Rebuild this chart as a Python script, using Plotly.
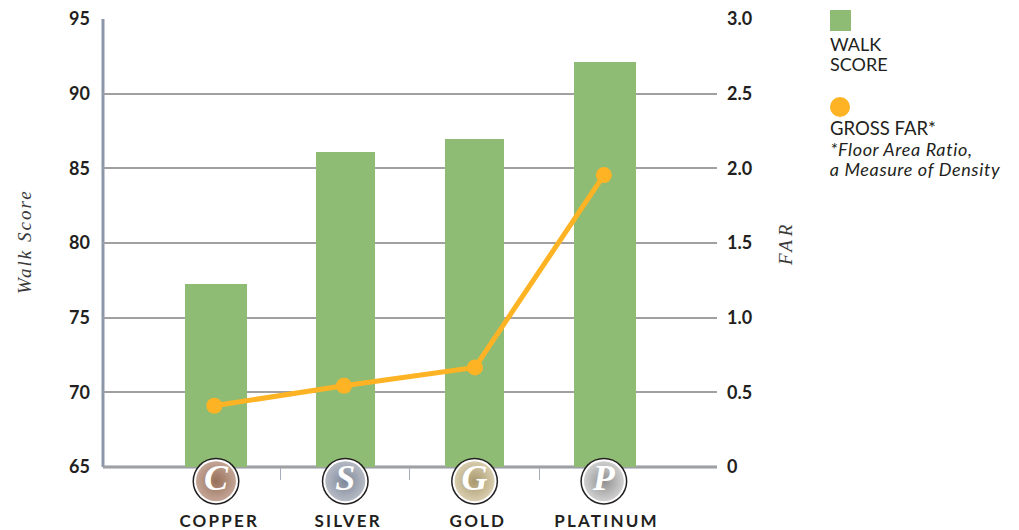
import plotly.graph_objects as go

categories = ["COPPER", "SILVER", "GOLD", "PLATINUM"]
letters = ["C", "S", "G", "P"]
walk_score = [77.25, 86.1, 86.95, 92.1]
gross_far = [0.41, 0.544, 0.667, 1.955]
badge_y = [64.05, 64.05, 64.05, 64.05]
badge_colors = ["#96705a", "#7f8899", "#a8986d", "#8f8f91"]
badge_centers = ["#c4a596", "#b5bac4", "#d8cdae", "#d0d0d0"]
left_ticks = [65, 70, 75, 80, 85, 90, 95]
right_ticks = [0, 0.5, 1, 1.5, 2, 2.5, 3]
right_labels = ["0", "0.5", "1.0", "1.5", "2.0", "2.5", "3.0"]
x_idx = [0, 1, 2, 3]
bar_x = [0, 1, 2, 3.008]
far_x = [-0.013, 0.99, 2.003, 3.0]
bar_widths = [0.477, 0.457, 0.457, 0.48]

GREEN = "#8fbc74"
ORANGE = "#fdb324"
AXIS = "#8b96a8"
TEXT = "#231f20"
SANS = "Lato"
SERIF = "Liberation Serif"

TOP = 19
AXIS_BOTTOM = 467
PLOT_BOTTOM = 510
Y_MIN, Y_MAX = 65, 95
FAR_MAX = 3
lower_px = PLOT_BOTTOM - AXIS_BOTTOM
span_px = AXIS_BOTTOM - TOP

fig = go.Figure()
fig.add_trace(go.Bar(x=bar_x, y=[v - Y_MIN for v in walk_score], base=Y_MIN, width=bar_widths,
                     marker=dict(color=GREEN, line_width=0), yaxis="y", showlegend=False))
fig.add_trace(go.Scatter(x=x_idx, y=badge_y, yaxis="y", mode="markers",
                         marker=dict(size=47, color="#231f20"), showlegend=False, hoverinfo="skip"))
fig.add_trace(go.Scatter(x=x_idx, y=badge_y, yaxis="y", mode="markers",
                         marker=dict(size=44, color="#ffffff"), showlegend=False, hoverinfo="skip"))
fig.add_trace(go.Scatter(x=x_idx, y=badge_y, yaxis="y", mode="markers+text",
                         text=[f"<b><i>{s}</i></b>" for s in letters], textposition="middle center",
                         textfont=dict(family=SERIF, size=36, color="#ffffff"),
                         marker=dict(size=40, color=badge_centers,
                                     gradient=dict(type="radial", color=badge_colors)),
                         showlegend=False, hoverinfo="skip"))
fig.add_trace(go.Scatter(x=far_x, y=gross_far, yaxis="y2", mode="lines+markers",
                         line=dict(color=ORANGE, width=5),
                         marker=dict(color=ORANGE, size=16), showlegend=False))

fig.update_layout(
    width=1019, height=530, margin=dict(l=103, r=302, t=TOP, b=530 - PLOT_BOTTOM, autoexpand=False),
    paper_bgcolor="white", plot_bgcolor="white", bargap=0,
    font=dict(family=SANS, color=TEXT),
    xaxis=dict(range=[-0.874, 3.875], tickmode="array", tickvals=[0.5, 1.5, 2.5], ticktext=["", "", ""],
               ticks="outside", ticklen=12, tickwidth=1, tickcolor="#a5adba", showgrid=False,
               zeroline=False, showline=False, anchor="free",
               position=lower_px / (PLOT_BOTTOM - TOP)),
    yaxis=dict(range=[Y_MIN - lower_px * (Y_MAX - Y_MIN) / span_px, Y_MAX], tickmode="array", tickvals=left_ticks,
               tickfont=dict(family=SANS, size=18, color=TEXT, weight=700),
               showgrid=True, gridcolor="#a0a0a0", gridwidth=1.5, zeroline=False,
               showline=False, ticks="", ticklabelstandoff=12),
    yaxis2=dict(range=[-lower_px * FAR_MAX / span_px, FAR_MAX], overlaying="y", side="right", tickmode="array",
                tickvals=right_ticks, ticktext=right_labels,
                tickfont=dict(family=SANS, size=18, color=TEXT, weight=700),
                showgrid=False, zeroline=False, showline=False, ticks="", ticklabelstandoff=9),
)


def px(x):
    return (x - 103) / 614


def py(y):
    return (PLOT_BOTTOM - y) / (PLOT_BOTTOM - TOP)


# Axis lines
fig.add_shape(type="line", xref="paper", yref="y", x0=0, x1=1, y0=Y_MIN, y1=Y_MIN, layer="below",
              line=dict(color=AXIS, width=3))
fig.add_shape(type="line", xref="paper", yref="y", x0=0, x1=0, y0=Y_MIN, y1=Y_MAX, layer="below",
              line=dict(color=AXIS, width=3))

for cat, i in zip(categories, x_idx):
    fig.add_annotation(x=i, y=py(520), xref="x", yref="paper", text=f"<b>{cat}</b>", showarrow=False,
                       xshift=3, font=dict(family=SANS, size=17, color=TEXT), xanchor="center", yanchor="middle")

fig.add_annotation(x=px(24), y=py(242), xref="paper", yref="paper", text="<i>Walk Score</i>", textangle=-90,
                   showarrow=False, xanchor="center", yanchor="middle",
                   font=dict(family=SERIF, size=19, color="#3a3a3a"))
fig.add_annotation(x=px(785), y=py(243), xref="paper", yref="paper", text="<i>FAR</i>", textangle=-90,
                   showarrow=False, xanchor="center", yanchor="middle",
                   font=dict(family=SERIF, size=19, color="#3a3a3a"))

# Hand-placed key at the right
fig.add_shape(type="rect", xref="paper", yref="paper", x0=px(830), x1=px(851), y0=py(31), y1=py(10),
              fillcolor=GREEN, line_width=0)
fig.add_shape(type="circle", xref="paper", yref="paper", x0=px(830), x1=px(850), y0=py(117), y1=py(97),
              fillcolor=ORANGE, line_width=0)
for text, y, size, shift in [("WALK", 44, 18, 0), ("SCORE", 64, 18, 0), ("GROSS FAR*", 128, 18.5, 0),
                             ("<i>*Floor Area Ratio,</i>", 149, 18, 5.5),
                             ("<i>a Measure of Density</i>", 169, 18, 6)]:
    fig.add_annotation(x=px(828), y=py(y), xref="paper", yref="paper", text=text, showarrow=False, xshift=shift,
                       xanchor="left", yanchor="middle", font=dict(family=SANS, size=size, color=TEXT))

spacing_js = """
document.body.style.margin='0';
document.querySelectorAll('.annotation-text').forEach(function(t){
  var s=t.textContent;
  if(['COPPER','SILVER','GOLD','PLATINUM'].indexOf(s)>=0){t.style.letterSpacing='2.2px';}
  if(s==='Walk Score'){t.style.letterSpacing='2px';}
  if(s==='FAR'){t.style.letterSpacing='4px';}
  if(s==='*Floor Area Ratio,'||s==='a Measure of Density'){t.style.letterSpacing='0.62px';}
});
"""
fig.write_html("out.html", post_script=spacing_js, config=dict(displayModeBar=False))
